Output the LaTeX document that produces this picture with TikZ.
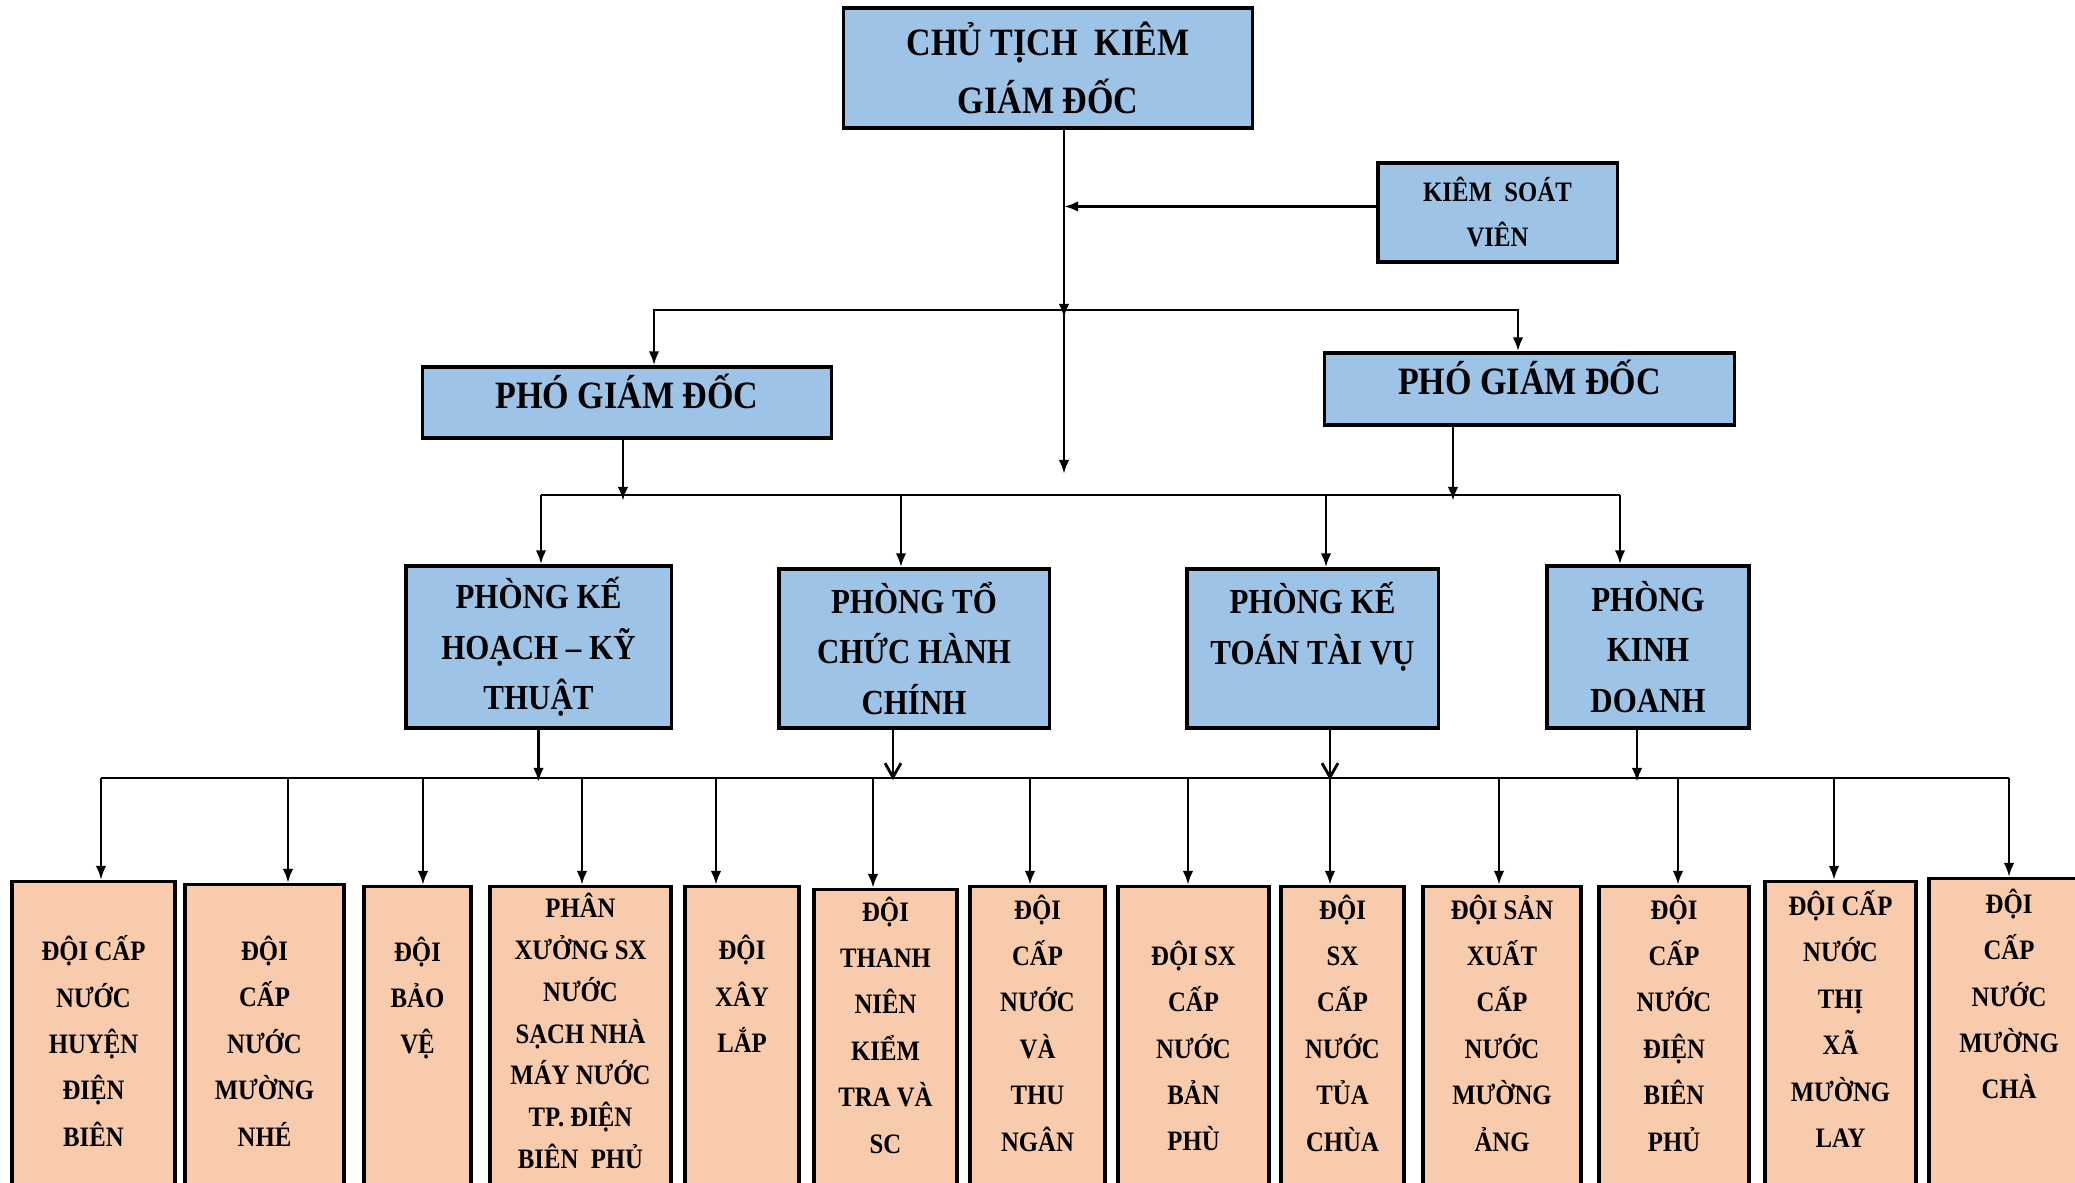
\documentclass[tikz,border=0pt]{standalone}
\usepackage{fontspec}
\setmainfont{Liberation Serif}[FakeStretch=0.88]
\usetikzlibrary{arrows.meta}

\definecolor{boxblue}{HTML}{9DC3E6}
\definecolor{boxpeach}{HTML}{F8CBAD}

\tikzset{%
    bluebox/.style={draw, line width=0.9pt, fill=boxblue, align=center,
        inner sep=0pt, font=\bfseries},
    doibox/.style={draw, line width=0.9pt, fill=boxpeach, anchor=north,
        minimum height=4cm, inner sep=0pt},
    doitext/.style={align=center, inner sep=0pt,
        font=\fontsize{8}{13.2}\selectfont\bfseries},
    arr/.style={line width=0.8pt, -{Latex[length=1.4mm, width=1.05mm]}},
    openarr/.style={line width=0.8pt, -{Straight Barb[length=1.4mm, width=1.6mm]}},
    bus/.style={line width=0.8pt}
}

\begin{document}
\begin{tikzpicture}[x=0.01cm, y=-0.01cm]

    \useasboundingbox (0, 0) rectangle (2075, 1183);
    \clip (0, 0) rectangle (2075, 1183);

    % Top
    \node[bluebox, minimum width=4.08cm, minimum height=1.2cm,
          font=\fontsize{11}{16.5}\selectfont\bfseries] (ct) at (1048, 68)
        {CHỦ TỊCH~~KIÊM\\GIÁM ĐỐC};
    \node[bluebox, minimum width=2.39cm, minimum height=0.99cm,
          font=\fontsize{8}{12.8}\selectfont\bfseries] (ksv) at (1497.5, 212.5)
        {KIÊM~~SOÁT\\VIÊN};

    \coordinate (j1) at (1064, 310);
    \coordinate (j2) at (1064, 474);

    % Deputies
    \node[bluebox, minimum width=4.08cm, minimum height=0.71cm,
          text height=8pt, text depth=4.8pt,
          font=\fontsize{11}{14}\selectfont\bfseries] (pgdL) at (627, 402.5)
        {PHÓ GIÁM ĐỐC};
    \node[bluebox, minimum width=4.09cm, minimum height=0.72cm,
          text height=8pt, text depth=4.8pt,
          font=\fontsize{11}{14}\selectfont\bfseries] (pgdR) at (1529.5, 389)
        {PHÓ GIÁM ĐỐC};

    \draw[arr] (j1 |- ct.south) -- ([yshift=-0.08cm] j1);
    \draw[arr] (j1) -- (j2);
    \draw[arr] ([yshift=0.06cm] ksv.west) -- ([yshift=0.06cm] ksv.west -| j1);
    \draw[arr] (j1) -| ([xshift=0.27cm] pgdL.north);
    \draw[arr] (j1) -| ([xshift=-0.115cm] pgdR.north);

    % Offices
    \node[bluebox, minimum width=2.65cm, minimum height=1.62cm,
          font=\fontsize{10}{14.3}\selectfont\bfseries] (pKH) at (538.5, 647)
        {PHÒNG KẾ\\HOẠCH – KỸ\\THUẬT};
    \node[bluebox, minimum width=2.70cm, minimum height=1.59cm,
          font=\fontsize{10}{14.3}\selectfont\bfseries] (pTC) at (914, 648.5)
        {PHÒNG TỔ\\CHỨC HÀNH\\CHÍNH};
    \node[bluebox, minimum width=2.51cm, minimum height=1.59cm,
          font=\fontsize{10}{14.3}\selectfont\bfseries] (pKT) at (1312.5, 648.5)
        {PHÒNG KẾ\\TOÁN TÀI VỤ\\\mbox{}};
    \node[bluebox, minimum width=2.02cm, minimum height=1.62cm,
          font=\fontsize{10}{14.3}\selectfont\bfseries] (pKD) at (1648, 647)
        {PHÒNG\\KINH\\DOANH};

    \coordinate (k1) at (541, 495);
    \coordinate (k4) at (1620, 495);

    \draw[bus] (k1) -- (k4);
    \draw[arr] ([xshift=-0.04cm] pgdL.south)
        -- ([xshift=-0.04cm, yshift=-0.06cm] pgdL.south |- k1);
    \draw[arr] ([xshift=-0.765cm] pgdR.south)
        -- ([xshift=-0.765cm, yshift=-0.06cm] pgdR.south |- k1);
    \draw[arr] (k1) -- (k1 |- pKH.north);
    \draw[arr] ([xshift=-0.13cm] pTC.north |- k1) -- ([xshift=-0.13cm] pTC.north);
    \draw[arr] ([xshift=0.135cm] pKT.north |- k1) -- ([xshift=0.135cm] pKT.north);
    \draw[arr] (k4) -- (k4 |- pKD.north);

    % Teams
    \node[doibox, minimum width=1.63cm] (d1) at (93.5, 880) {};
    \node[doibox, minimum width=1.59cm] (d2) at (264.5, 883) {};
    \node[doibox, minimum width=1.07cm] (d3) at (417.5, 885) {};
    \node[doibox, minimum width=1.81cm] (d4) at (580.5, 885) {};
    \node[doibox, minimum width=1.14cm] (d5) at (742, 885) {};
    \node[doibox, minimum width=1.43cm] (d6) at (885.5, 888) {};
    \node[doibox, minimum width=1.35cm] (d7) at (1037.5, 885) {};
    \node[doibox, minimum width=1.51cm] (d8) at (1193.5, 885) {};
    \node[doibox, minimum width=1.23cm] (d9) at (1342.5, 885) {};
    \node[doibox, minimum width=1.58cm] (d10) at (1502, 885) {};
    \node[doibox, minimum width=1.50cm] (d11) at (1674, 885) {};
    \node[doibox, minimum width=1.51cm] (d12) at (1840.5, 880) {};
    \node[doibox, minimum width=1.60cm] (d13) at (2009, 877) {};

    \node[doitext] (t1) at (93.5, 1041)
        {ĐỘI CẤP\\NƯỚC\\HUYỆN\\ĐIỆN\\BIÊN};
    \node[doitext] (t2) at (264.5, 1041)
        {ĐỘI\\CẤP\\NƯỚC\\MƯỜNG\\NHÉ};
    \node[doitext] (t3) at (417.5, 998)
        {ĐỘI\\BẢO\\VỆ};
    \node[doitext, font=\fontsize{8}{11.9}\selectfont\bfseries] (t4) at (580.5, 1031)
        {PHÂN\\XƯỞNG SX\\NƯỚC\\SẠCH NHÀ\\MÁY NƯỚC\\TP. ĐIỆN\\BIÊN~~PHỦ};
    \node[doitext] (t5) at (742, 994)
        {ĐỘI\\XÂY\\LẮP};
    \node[doitext] (t6) at (885.5, 1025)
        {ĐỘI\\THANH\\NIÊN\\KIỂM\\TRA VÀ\\SC};
    \node[doitext] (t7) at (1037.5, 1023)
        {ĐỘI\\CẤP\\NƯỚC\\VÀ\\THU\\NGÂN};
    \node[doitext] (t8) at (1193.5, 1046)
        {ĐỘI SX\\CẤP\\NƯỚC\\BẢN\\PHÙ};
    \node[doitext] (t9) at (1342.5, 1023)
        {ĐỘI\\SX\\CẤP\\NƯỚC\\TỦA\\CHÙA};
    \node[doitext] (t10) at (1502, 1023)
        {ĐỘI SẢN\\XUẤT\\CẤP\\NƯỚC\\MƯỜNG\\ẢNG};
    \node[doitext] (t11) at (1674, 1023)
        {ĐỘI\\CẤP\\NƯỚC\\ĐIỆN\\BIÊN\\PHỦ};
    \node[doitext] (t12) at (1840.5, 1019)
        {ĐỘI CẤP\\NƯỚC\\THỊ\\XÃ\\MƯỜNG\\LAY};
    \node[doitext] (t13) at (2009, 994)
        {ĐỘI\\CẤP\\NƯỚC\\MƯỜNG\\CHÀ};

    \coordinate (b1) at (101, 778);
    \coordinate (b13) at (2009, 778);

    \draw[bus] (b1) -- (b13);
    \draw[arr] (pKH.south) -- ([yshift=-0.04cm] pKH.south |- b1);
    \draw[openarr] ([xshift=-0.21cm] pTC.south)
        -- ([xshift=-0.21cm, yshift=-0.02cm] pTC.south |- b1);
    \draw[openarr] ([xshift=0.175cm] pKT.south)
        -- ([xshift=0.175cm, yshift=-0.02cm] pKT.south |- b1);
    \draw[arr] ([xshift=-0.11cm] pKD.south)
        -- ([xshift=-0.11cm, yshift=-0.04cm] pKD.south |- b1);

    \foreach \n/\x in {1/101, 2/288, 3/423, 4/582, 5/716, 6/873, 7/1030,
                       8/1188, 9/1330, 10/1499, 11/1678, 12/1834, 13/2009}{%
        \coordinate (c\n) at (\x, 778);
        \draw[arr] (c\n) -- (c\n |- d\n.north);
    }

\end{tikzpicture}
\end{document}
